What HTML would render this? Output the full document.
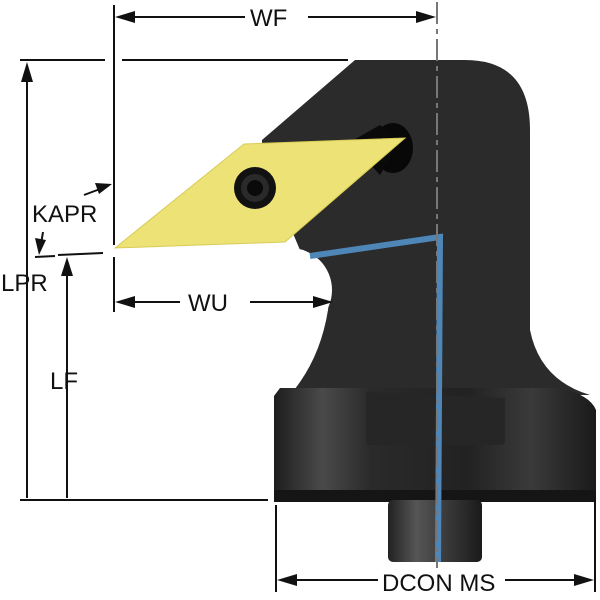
<!DOCTYPE html>
<html><head><style>body{margin:0;background:#fff}svg{display:block}text{font-family:"Liberation Sans",sans-serif;font-size:24px;fill:#111}</style></head>
<body>
<svg width="600" height="600" viewBox="0 0 600 600">
<defs>
<linearGradient id="base" x1="0" x2="1" y1="0" y2="0">
<stop offset="0" stop-color="#1e1e1e"/><stop offset="0.15" stop-color="#4a4a4a"/><stop offset="0.3" stop-color="#2a2a2a"/><stop offset="0.6" stop-color="#222"/><stop offset="0.8" stop-color="#3a3a3a"/><stop offset="1" stop-color="#1a1a1a"/>
</linearGradient>
<linearGradient id="pin" x1="0" x2="1"><stop offset="0" stop-color="#222"/><stop offset="0.3" stop-color="#555"/><stop offset="1" stop-color="#1a1a1a"/></linearGradient>
</defs>
<path d="M355,60 L465,60 Q530,60 530,130 L530,330 Q540,380 590,395 L290,395 Q320,360 328,310 Q332,280 310,258 L300,250 L262,160 L262,140 Z" fill="#2b2b2b"/>
<circle cx="290" cy="290" r="42" fill="#fff"/>
<path d="M280,388 L560,388 Q590,395 596,410 L596,490 L590,502 L282,502 L274,490 L274,396 Z" fill="url(#base)"/>
<rect x="274" y="490" width="322" height="12" fill="#151515"/>
<path d="M366,392 L505,398 L505,440 Q505,445 500,445 L372,445 Q366,445 366,440 Z" fill="#262626"/>
<rect x="388" y="500" width="94" height="62" rx="5" fill="url(#pin)"/>
<ellipse cx="393" cy="148" rx="20" ry="25" fill="#080808"/>
<path d="M350,142 L380,125 L400,140 L380,175 Z" fill="#0a0a0a"/>
<polyline points="310,256 440,237 438,562" fill="none" stroke="#4e86b8" stroke-width="6"/>
<line x1="437" y1="2" x2="437" y2="568" stroke="#777" stroke-width="2" stroke-dasharray="22,5,5,5"/>
<polygon points="115,248 244,144 405,138 285,242" fill="#ede275" stroke="#d8cc55" stroke-width="1"/>
<circle cx="255" cy="188" r="21" fill="#111"/>
<circle cx="255" cy="188" r="14" fill="#2a2a2a"/>
<circle cx="255" cy="188" r="8" fill="#0a0a0a"/>
<g stroke="#111" stroke-width="2" fill="none">
<line x1="114" y1="5" x2="114" y2="245"/>
<line x1="114" y1="257" x2="114" y2="312"/>
<line x1="120" y1="17" x2="245" y2="17"/><line x1="308" y1="17" x2="432" y2="17"/>
<line x1="20" y1="60" x2="105" y2="60"/><line x1="122" y1="60" x2="348" y2="60"/>
<line x1="27" y1="68" x2="27" y2="498"/>
<line x1="20" y1="500" x2="268" y2="500"/>
<line x1="67" y1="262" x2="67" y2="498"/>
<line x1="58" y1="255" x2="103" y2="253"/>
<line x1="35" y1="257" x2="55" y2="256"/>
<line x1="120" y1="302" x2="180" y2="302"/><line x1="250" y1="302" x2="322" y2="302"/>
<line x1="276" y1="505" x2="276" y2="592"/><line x1="595" y1="497" x2="595" y2="592"/>
<line x1="282" y1="580" x2="378" y2="580"/><line x1="505" y1="580" x2="590" y2="580"/>
<line x1="84" y1="195" x2="108" y2="186"/>
<line x1="43" y1="232" x2="40" y2="250"/>
</g>
<g fill="#111">
<polygon points="115,17 135,11 135,23"/><polygon points="436,17 416,11 416,23"/>
<polygon points="27,62 21,82 33,82"/>
<polygon points="67,257 61,276 73,276"/>
<polygon points="115,302 135,296 135,308"/><polygon points="333,302 313,296 313,308"/>
<polygon points="277,580 297,574 297,586"/><polygon points="594,580 574,574 574,586"/>
<polygon points="112,184 95,183 99,194"/>
<polygon points="39,255 35,238 46,240"/>
</g>
<text x="250" y="26">WF</text>
<text x="32" y="222">KAPR</text>
<text x="1" y="291">LPR</text>
<text x="50" y="389">LF</text>
<text x="188" y="311">WU</text>
<text x="382" y="591">DCON MS</text>
</svg>
</body></html>
